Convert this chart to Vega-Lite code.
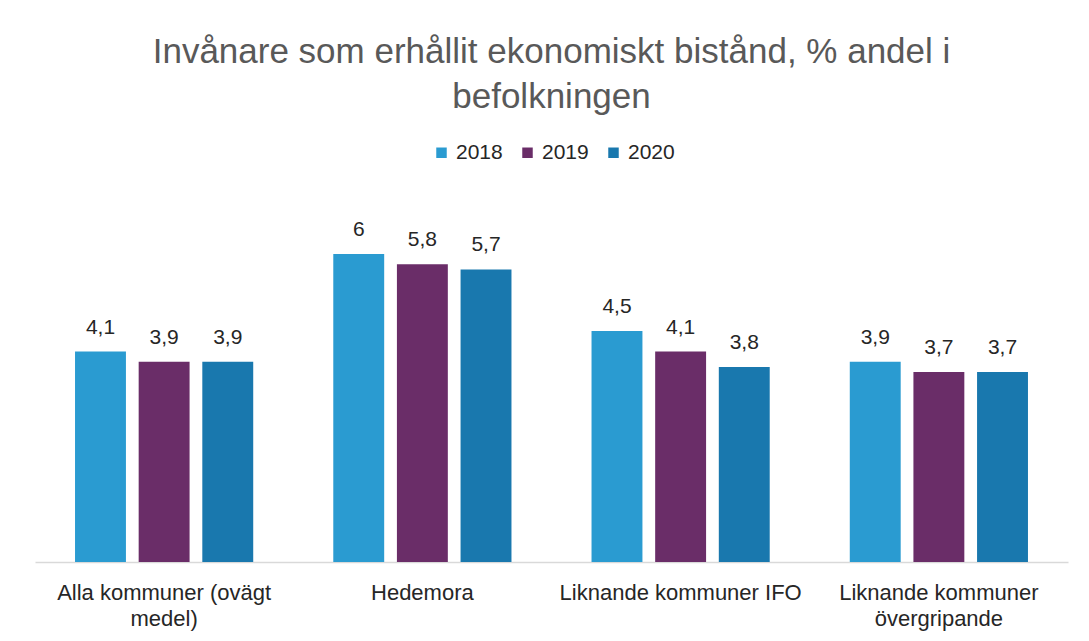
{
  "$schema": "https://vega.github.io/schema/vega-lite/v6.json",
  "autosize": {"type": "none"},
  "width": 1033,
  "height": 377,
  "padding": {"left": 35, "top": 185, "right": 21, "bottom": 79},
  "background": "white",
  "config": {
    "view": {"stroke": null},
    "font": "Liberation Sans",
    "locale": {"number": {"decimal": ",", "thousands": " ", "grouping": [3], "currency": ["", " kr"]}}
  },
  "title": {
    "text": ["Invånare som erhållit ekonomiskt bistånd, % andel i", "befolkningen"],
    "fontSize": 35,
    "fontWeight": "normal",
    "color": "#595959",
    "lineHeight": 45,
    "anchor": "middle",
    "offset": 27
  },
  "data": {
    "values": [
      {"kategori": "Alla kommuner (ovägt medel)", "år": "2018", "värde": 4.1},
      {"kategori": "Alla kommuner (ovägt medel)", "år": "2019", "värde": 3.9},
      {"kategori": "Alla kommuner (ovägt medel)", "år": "2020", "värde": 3.9},
      {"kategori": "Hedemora", "år": "2018", "värde": 6},
      {"kategori": "Hedemora", "år": "2019", "värde": 5.8},
      {"kategori": "Hedemora", "år": "2020", "värde": 5.7},
      {"kategori": "Liknande kommuner IFO", "år": "2018", "värde": 4.5},
      {"kategori": "Liknande kommuner IFO", "år": "2019", "värde": 4.1},
      {"kategori": "Liknande kommuner IFO", "år": "2020", "värde": 3.8},
      {"kategori": "Liknande kommuner övergripande", "år": "2018", "värde": 3.9},
      {"kategori": "Liknande kommuner övergripande", "år": "2019", "värde": 3.7},
      {"kategori": "Liknande kommuner övergripande", "år": "2020", "värde": 3.7}
    ]
  },
  "encoding": {
    "x": {
      "field": "kategori",
      "type": "nominal",
      "sort": null,
      "scale": {"paddingInner": 0.31, "paddingOuter": 0.155},
      "axis": {
        "title": null,
        "labelAngle": 0,
        "ticks": false,
        "domainColor": "#d9d9d9",
        "domainWidth": 1.5,
        "labelFontSize": 22,
        "labelColor": "#262626",
        "labelPadding": 20,
        "labelLineHeight": 26,
        "labelLimit": 400,
        "labelExpr": "datum.value == 'Alla kommuner (ovägt medel)' ? ['Alla kommuner (ovägt', 'medel)'] : datum.value == 'Liknande kommuner övergripande' ? ['Liknande kommuner', 'övergripande'] : datum.value"
      }
    },
    "xOffset": {"field": "år", "type": "nominal", "scale": {"paddingInner": 0.2, "paddingOuter": 0}},
    "y": {
      "field": "värde",
      "type": "quantitative",
      "scale": {"domain": [0, 7.345], "nice": false},
      "axis": null
    }
  },
  "layer": [
    {
      "mark": {"type": "bar"},
      "encoding": {
        "color": {
          "field": "år",
          "type": "nominal",
          "scale": {"domain": ["2018", "2019", "2020"], "range": ["#2a9bd1", "#6a2d68", "#1978ae"]},
          "legend": {
            "orient": "none",
            "direction": "horizontal",
            "legendX": 396,
            "legendY": -43,
            "title": null,
            "symbolType": "square",
            "symbolSize": 110,
            "symbolStrokeWidth": 0,
            "labelFontSize": 21,
            "labelColor": "#262626",
            "labelOffset": 4,
            "columnPadding": 14
          }
        }
      }
    },
    {
      "mark": {"type": "text", "dy": -24, "fontSize": 21, "color": "#262626", "baseline": "middle"},
      "encoding": {
        "text": {"field": "värde", "type": "quantitative", "format": ".1~f"}
      }
    }
  ]
}
